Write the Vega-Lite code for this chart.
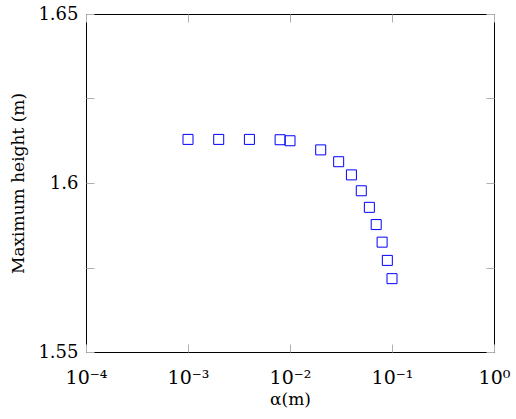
{
  "$schema": "https://vega.github.io/schema/vega-lite/v6.json",
  "width": 408,
  "height": 338,
  "autosize": {"type": "none"},
  "padding": {"left": 86, "top": 14, "right": 22, "bottom": 67},
  "background": "white",
  "config": {
    "view": {"stroke": "black", "strokeWidth": 1},
    "font": "DejaVu Serif",
    "axis": {
      "grid": false,
      "domain": false,
      "tickColor": "#b0b0b0",
      "tickSize": -8,
      "tickWidth": 1,
      "labelFont": "DejaVu Serif",
      "labelFontSize": 18,
      "labelColor": "black",
      "labelFlush": false,
      "labelOverlap": false,
      "titleFont": "DejaVu Serif",
      "titleFontSize": 17,
      "titleFontWeight": "normal",
      "titleColor": "black"
    }
  },
  "data": {
    "values": [
      {"alpha": 0.001, "h": 1.6129},
      {"alpha": 0.002, "h": 1.6129},
      {"alpha": 0.004, "h": 1.6129},
      {"alpha": 0.008, "h": 1.6128},
      {"alpha": 0.01, "h": 1.6125},
      {"alpha": 0.02, "h": 1.6098},
      {"alpha": 0.03, "h": 1.6063},
      {"alpha": 0.04, "h": 1.6024},
      {"alpha": 0.05, "h": 1.5977},
      {"alpha": 0.06, "h": 1.5928},
      {"alpha": 0.07, "h": 1.5877},
      {"alpha": 0.08, "h": 1.5825},
      {"alpha": 0.09, "h": 1.5771},
      {"alpha": 0.1, "h": 1.5717}
    ]
  },
  "resolve": {"axis": {"x": "independent", "y": "independent"}},
  "layer": [
    {
      "mark": {"type": "point", "shape": "square", "filled": false, "size": 100, "stroke": "#0000ff", "strokeWidth": 1, "opacity": 1},
      "encoding": {
        "x": {
          "field": "alpha", "type": "quantitative",
          "scale": {"type": "log", "domain": [0.0001, 1], "nice": false},
          "axis": {
            "orient": "bottom",
            "values": [0.0001, 0.001, 0.01, 0.1, 1],
            "labelExpr": "datum.value < 0.0005 ? '10⁻⁴' : datum.value < 0.005 ? '10⁻³' : datum.value < 0.05 ? '10⁻²' : datum.value < 0.5 ? '10⁻¹' : '10⁰'",
            "labelPadding": 24,
            "labelFontSize": 19,
            "title": "α(m)",
            "titlePadding": 4
          }
        },
        "y": {
          "field": "h", "type": "quantitative",
          "scale": {"domain": [1.55, 1.65], "nice": false, "zero": false},
          "axis": {
            "orient": "left",
            "values": [1.55, 1.575, 1.6, 1.625, 1.65],
            "labelExpr": "abs(datum.value - 1.55) < 0.001 ? '1.55' : abs(datum.value - 1.6) < 0.001 ? '1.6' : abs(datum.value - 1.65) < 0.001 ? '1.65' : ''",
            "labelPadding": 16,
            "title": "Maximum height (m)",
            "titlePadding": 10
          }
        }
      }
    },
    {
      "mark": {"type": "point", "shape": "square", "filled": false, "size": 100, "opacity": 0},
      "encoding": {
        "x": {
          "field": "alpha", "type": "quantitative",
          "axis": {"orient": "top", "values": [0.0001, 0.001, 0.01, 0.1, 1], "labels": false, "title": null}
        },
        "y": {
          "field": "h", "type": "quantitative",
          "axis": {"orient": "right", "values": [1.55, 1.575, 1.6, 1.625, 1.65], "labels": false, "title": null}
        }
      }
    }
  ]
}
